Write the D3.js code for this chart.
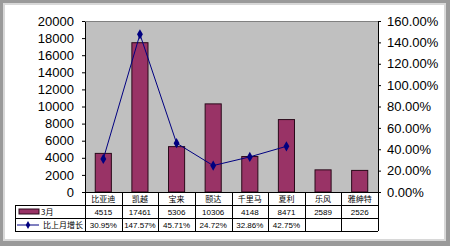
<!DOCTYPE html>
<html>
<head>
<meta charset="utf-8">
<script src="https://cdn.jsdelivr.net/npm/d3@7"></script>
<style>
  body { margin: 0; background: #fff; }
  svg text { font-family: "Liberation Sans", Arial, sans-serif; }
  .cn { font-family: "Noto Sans CJK SC", sans-serif; }
</style>
</head>
<body>
<svg id="chart" width="450" height="246"></svg>
<script>
var categories = ['比亚迪', '凯越', '宝来', '颐达', '千里马', '夏利', '乐风', '雅绅特'];
var sales = [4515, 17461, 5306, 10306, 4148, 8471, 2589, 2526];
var growth = [30.95, 147.57, 45.71, 24.72, 32.86, 42.75, null, null];
var salesText = ['4515', '17461', '5306', '10306', '4148', '8471', '2589', '2526'];
var growthText = ['30.95%', '147.57%', '45.71%', '24.72%', '32.86%', '42.75%', '', ''];
var leftTicks = d3.range(0, 20001, 2000);
var rightTicks = d3.range(0, 161, 20);

var svg = d3.select('#chart');

// frame
svg.append('rect').attr('x', 0).attr('y', 0).attr('width', 450).attr('height', 246)
  .attr('fill', '#9a9a9a');
svg.append('rect').attr('x', 3).attr('y', 3).attr('width', 443).attr('height', 238)
  .attr('fill', '#d8d8d8');
svg.append('rect').attr('x', 5).attr('y', 5).attr('width', 439).attr('height', 234)
  .attr('fill', '#ffffff');

var plot = { left: 85, right: 378, top: 21, bottom: 192 };

svg.append('rect')
  .attr('x', plot.left).attr('y', plot.top)
  .attr('width', plot.right - plot.left).attr('height', plot.bottom - plot.top)
  .attr('fill', '#c0c0c0');

var x = d3.scaleBand().domain(categories).range([plot.left, plot.right]).paddingInner(0.56).paddingOuter(0.28);
var xc = d3.scaleBand().domain(categories).range([plot.left, plot.right]);
var y = d3.scaleLinear().domain([0, 20000]).range([plot.bottom, plot.top]);
var y2 = d3.scaleLinear().domain([0, 160]).range([plot.bottom, plot.top]);

// axes
var leftAxis = svg.append('g').attr('transform', 'translate(' + plot.left + ',0)')
  .call(d3.axisLeft(y).tickValues(leftTicks).tickSize(3).tickPadding(8).tickFormat(d3.format('d')));
var rightAxis = svg.append('g').attr('transform', 'translate(' + plot.right + ',0)')
  .call(d3.axisRight(y2).tickValues(rightTicks).tickSize(3).tickPadding(6)
    .tickFormat(function(d) { return d.toFixed(2) + '%'; }));
[leftAxis, rightAxis].forEach(function(a) {
  a.select('.domain').attr('stroke', '#000');
  a.selectAll('.tick line').attr('stroke', '#000');
  a.selectAll('.tick text').attr('font-size', 13).attr('fill', '#000');
});

// top border of plot
svg.append('line').attr('x1', plot.left).attr('x2', plot.right)
  .attr('y1', plot.top + 0.5).attr('y2', plot.top + 0.5).attr('stroke', '#808080');

// bars
svg.selectAll('rect.bar').data(sales).enter().append('rect')
  .attr('class', 'bar')
  .attr('x', function(d, i) { return x(categories[i]); })
  .attr('y', function(d) { return y(d); })
  .attr('width', x.bandwidth())
  .attr('height', function(d) { return plot.bottom - y(d); })
  .attr('fill', '#993366')
  .attr('stroke', '#2a0a1a')
  .attr('stroke-width', 1);

// growth line
var pts = growth.map(function(d, i) { return { c: categories[i], v: d }; })
  .filter(function(d) { return d.v !== null; });
var line = d3.line()
  .x(function(d) { return xc(d.c) + xc.bandwidth() / 2; })
  .y(function(d) { return y2(d.v); });
svg.append('path').datum(pts).attr('d', line)
  .attr('fill', 'none').attr('stroke', '#000080').attr('stroke-width', 1);
svg.selectAll('path.mk').data(pts).enter().append('path')
  .attr('class', 'mk')
  .attr('d', d3.symbol().type(d3.symbolDiamond).size(30))
  .attr('transform', function(d) {
    return 'translate(' + (xc(d.c) + xc.bandwidth() / 2) + ',' + y2(d.v) + ')';
  })
  .attr('fill', '#000080');

// data table
var rowY = [192, 205, 218, 231];
var tableLeft = 15;
var t = svg.append('g').attr('stroke', '#000').attr('stroke-width', 1);
t.append('line').attr('x1', plot.left).attr('x2', plot.right).attr('y1', rowY[0] + 0.5).attr('y2', rowY[0] + 0.5);
[1, 2, 3].forEach(function(r) {
  t.append('line').attr('x1', tableLeft).attr('x2', plot.right).attr('y1', rowY[r] + 0.5).attr('y2', rowY[r] + 0.5);
});
t.append('line').attr('x1', tableLeft + 0.5).attr('x2', tableLeft + 0.5).attr('y1', rowY[1]).attr('y2', rowY[3]);
categories.forEach(function(c) {
  t.append('line').attr('x1', Math.round(xc(c)) + 0.5).attr('x2', Math.round(xc(c)) + 0.5)
    .attr('y1', rowY[0]).attr('y2', rowY[3]);
});
t.append('line').attr('x1', plot.right + 0.5).attr('x2', plot.right + 0.5).attr('y1', rowY[0]).attr('y2', rowY[3]);

function cellText(arr, r, cls) {
  svg.append('g').selectAll('text').data(arr).enter().append('text')
    .attr('class', cls || null)
    .attr('x', function(d, i) { return xc(categories[i]) + xc.bandwidth() / 2; })
    .attr('y', rowY[r] + 10)
    .attr('text-anchor', 'middle')
    .attr('font-size', 8)
    .attr('fill', '#000')
    .text(function(d) { return d; });
}
cellText(categories, 0, 'cn');
cellText(salesText, 1);
cellText(growthText, 2);

// legend keys
svg.append('rect').attr('x', 19).attr('y', rowY[1] + 4).attr('width', 20).attr('height', 5)
  .attr('fill', '#993366').attr('stroke', '#2a0a1a');
svg.append('text').attr('class', 'cn').attr('x', 41).attr('y', rowY[1] + 10)
  .attr('font-size', 8).text('3月');
svg.append('line').attr('x1', 17).attr('x2', 39).attr('y1', rowY[2] + 7).attr('y2', rowY[2] + 7)
  .attr('stroke', '#000080');
svg.append('path').attr('d', d3.symbol().type(d3.symbolDiamond).size(18))
  .attr('transform', 'translate(28,' + (rowY[2] + 7) + ')').attr('fill', '#000080');
svg.append('text').attr('class', 'cn').attr('x', 43).attr('y', rowY[2] + 10)
  .attr('font-size', 8).text('比上月增长');
</script>
</body>
</html>
